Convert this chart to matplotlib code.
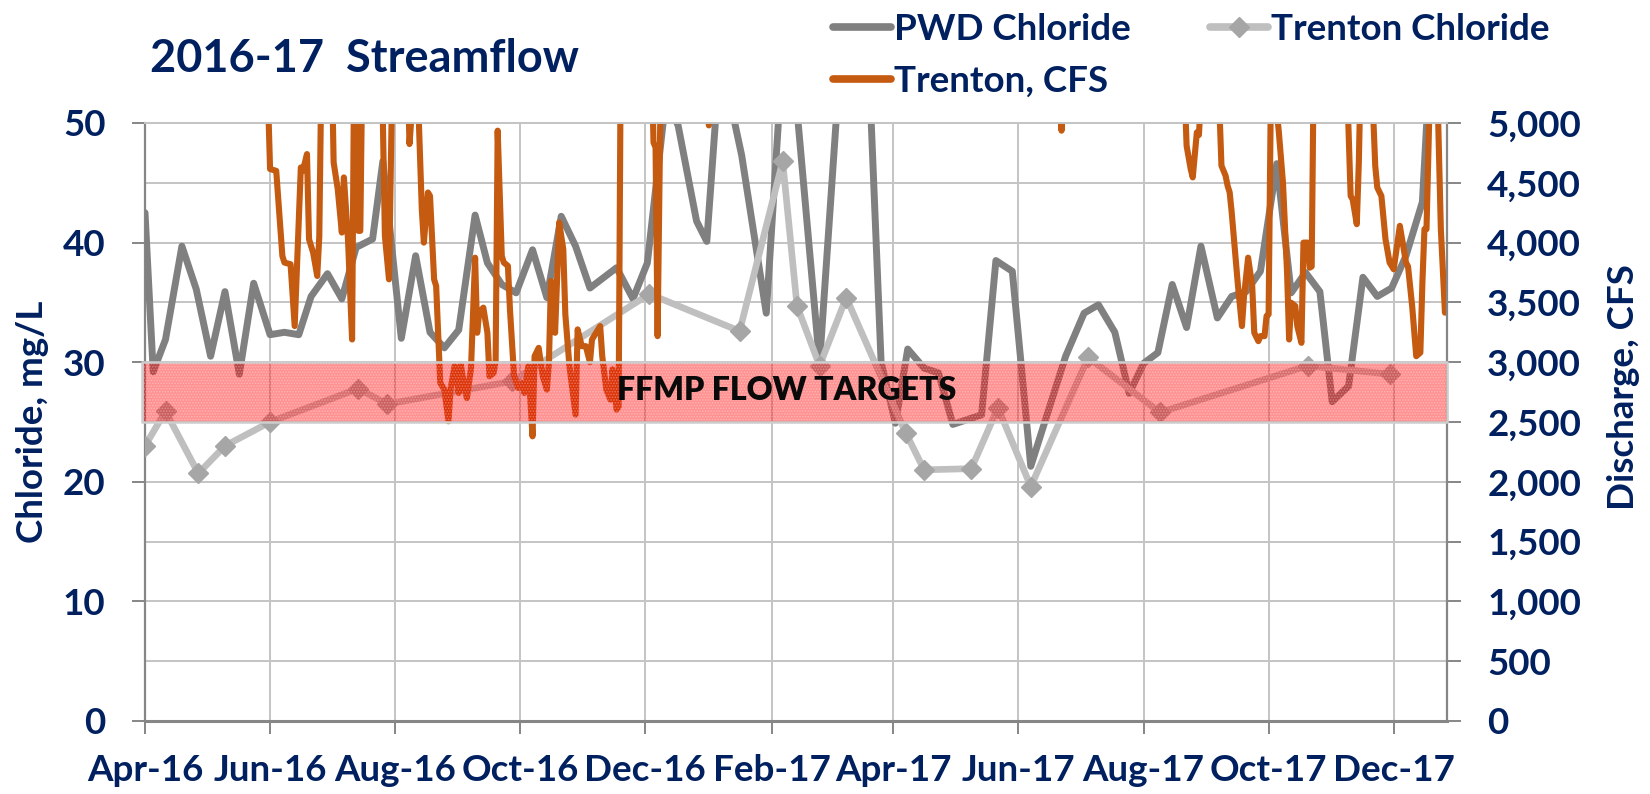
import matplotlib
matplotlib.use("Agg")
import matplotlib.pyplot as plt
import matplotlib.dates as mdates
from matplotlib.lines import Line2D
from matplotlib.ticker import FuncFormatter, MultipleLocator
import pandas as pd

plt.rcParams['font.family'] = ['Lato', 'DejaVu Sans']
plt.rcParams['font.weight'] = 'bold'
plt.rcParams['hatch.linewidth'] = 0.8

# ---------------- data ----------------
title = "2016-17  Streamflow"
left_label = "Chloride, mg/L"
right_label = "Discharge, CFS"
band_label = "FFMP FLOW TARGETS"
band_low, band_high = 2500, 3000

pwd_dates = ["2016-04-01","2016-04-05","2016-04-11","2016-04-19","2016-04-26","2016-05-03","2016-05-10",
             "2016-05-17","2016-05-24","2016-06-01","2016-06-08","2016-06-15","2016-06-21","2016-06-29",
             "2016-07-06","2016-07-13","2016-07-21","2016-07-26","2016-08-04","2016-08-11","2016-08-18",
             "2016-08-25","2016-09-01","2016-09-09","2016-09-15","2016-09-22","2016-09-29","2016-10-07",
             "2016-10-14","2016-10-21","2016-10-28","2016-11-04","2016-11-17","2016-11-25","2016-12-02",
             "2016-12-11","2016-12-17","2016-12-26","2016-12-31","2017-01-05","2017-01-13","2017-01-17",
             "2017-01-29","2017-02-05","2017-02-12","2017-02-24","2017-03-06","2017-03-20","2017-03-26",
             "2017-04-02","2017-04-08","2017-04-16","2017-04-23","2017-04-30","2017-05-14","2017-05-21",
             "2017-05-29","2017-06-07","2017-06-24","2017-07-03","2017-07-10","2017-07-18","2017-07-25",
             "2017-08-01","2017-08-08","2017-08-15","2017-08-22","2017-08-29","2017-09-06","2017-09-13",
             "2017-09-20","2017-09-27","2017-10-05","2017-10-12","2017-10-19","2017-10-26","2017-11-01",
             "2017-11-09","2017-11-16","2017-11-23","2017-11-30","2017-12-07","2017-12-15","2017-12-19"]
pwd_chloride = [42.5,29.2,31.9,39.7,36.1,30.5,35.9,29.0,36.6,32.3,32.5,32.3,35.5,37.4,35.3,39.6,40.3,46.8,
                32.0,38.9,32.5,31.2,32.7,42.3,38.3,36.5,35.8,39.4,35.4,42.2,39.7,36.2,37.9,35.3,38.3,52.0,
                49.8,41.8,40.1,52.0,50.5,47.3,34.1,53.0,53.0,29.9,55.0,55.0,30.0,24.9,31.1,29.5,29.1,24.8,
                25.6,38.5,37.6,21.3,30.5,34.1,34.8,32.5,27.4,29.9,30.8,36.5,32.9,39.7,33.7,35.5,35.9,37.6,
                46.6,35.8,37.5,35.9,26.7,28.0,37.1,35.5,36.2,38.9,43.4,56.0]

trenton_cl_dates = ["2016-04-01","2016-04-11","2016-04-27","2016-05-10","2016-06-01","2016-07-14","2016-07-28",
                    "2016-09-27","2016-12-03","2017-01-16","2017-02-06","2017-02-13","2017-02-24","2017-03-09",
                    "2017-04-07","2017-04-16","2017-05-09","2017-05-22","2017-06-07","2017-07-05","2017-08-09",
                    "2017-10-20","2017-11-29"]
trenton_chloride = [23.0,25.9,20.7,23.0,25.0,27.8,26.5,28.4,35.7,32.6,46.8,34.7,29.7,35.4,24.1,21.0,21.1,26.2,
                    19.6,30.4,25.8,29.7,29.0]

flow_dates = ["2016-04-01","2016-05-01","2016-05-28","2016-05-31","2016-06-01","2016-06-04","2016-06-07",
              "2016-06-08","2016-06-11","2016-06-13","2016-06-16","2016-06-17","2016-06-19","2016-06-20",
              "2016-06-22","2016-06-24","2016-06-25","2016-06-26","2016-07-01","2016-07-02","2016-07-04",
              "2016-07-06","2016-07-07","2016-07-09","2016-07-11","2016-07-12","2016-07-14","2016-07-15",
              "2016-07-16","2016-07-25","2016-07-27","2016-07-29","2016-07-31","2016-08-07","2016-08-08",
              "2016-08-10","2016-08-12","2016-08-14","2016-08-15","2016-08-17","2016-08-18","2016-08-20",
              "2016-08-21","2016-08-23","2016-08-25","2016-08-27","2016-08-28","2016-08-30","2016-09-01",
              "2016-09-02","2016-09-04","2016-09-05","2016-09-07","2016-09-08","2016-09-09","2016-09-10",
              "2016-09-11","2016-09-13","2016-09-15","2016-09-16","2016-09-18","2016-09-19","2016-09-20",
              "2016-09-22","2016-09-23","2016-09-25","2016-09-26","2016-09-28","2016-09-30","2016-10-02",
              "2016-10-03","2016-10-05","2016-10-07","2016-10-08","2016-10-10","2016-10-12","2016-10-14",
              "2016-10-15","2016-10-16","2016-10-18","2016-10-20","2016-10-22","2016-10-23","2016-10-25",
              "2016-10-28","2016-10-29","2016-10-31","2016-11-02","2016-11-04","2016-11-05","2016-11-07",
              "2016-11-09","2016-11-10","2016-11-12","2016-11-14","2016-11-15","2016-11-17","2016-11-18",
              "2016-11-19","2016-12-03","2016-12-05","2016-12-06","2016-12-07","2016-12-09","2016-12-30",
              "2017-01-01","2017-01-02","2017-04-01","2017-06-20","2017-06-22","2017-06-23","2017-08-19",
              "2017-08-21","2017-08-22","2017-08-24","2017-08-25","2017-08-27","2017-08-28","2017-08-30",
              "2017-09-06","2017-09-08","2017-09-10","2017-09-11","2017-09-12","2017-09-13","2017-09-16",
              "2017-09-18","2017-09-19","2017-09-21","2017-09-23","2017-09-24","2017-09-26","2017-09-27",
              "2017-09-29","2017-09-30","2017-10-01","2017-10-02","2017-10-05","2017-10-06","2017-10-08",
              "2017-10-10","2017-10-11","2017-10-12","2017-10-14","2017-10-15","2017-10-17","2017-10-18",
              "2017-10-20","2017-10-21","2017-10-22","2017-10-23","2017-11-07","2017-11-10","2017-11-11",
              "2017-11-13","2017-11-14","2017-11-15","2017-11-20","2017-11-22","2017-11-23","2017-11-25",
              "2017-11-27","2017-11-29","2017-12-01","2017-12-04","2017-12-07","2017-12-08","2017-12-10",
              "2017-12-12","2017-12-14","2017-12-15","2017-12-16","2017-12-17","2017-12-19","2017-12-22",
              "2017-12-24","2017-12-26"]
trenton_cfs = [9000,12000,6500,5200,4615,4600,3888,3833,3819,3302,4628,4600,4740,4028,3916,3721,4050,5400,
               5600,4670,4447,4084,4545,4028,3190,5500,4098,4098,5500,6000,4056,3693,5800,5500,4824,5300,
               5300,4279,4000,4419,4390,3693,3637,2827,2771,2506,2771,2967,2743,2980,2771,2700,2950,3414,
               3874,3246,3414,3456,3246,2883,2910,3009,4936,3888,3833,3805,3440,2883,2785,2827,2743,2967,
               2380,3050,3120,2883,2771,3000,3679,3246,4168,3944,3400,2967,2562,3274,3134,3134,3000,3190,
               3246,3302,3050,2771,2687,2940,2604,2630,5500,6500,4838,4796,3218,6000,6000,4980,6000,15000,
               7000,4936,7000,6000,5300,4810,4615,4545,4922,4900,5500,5600,4643,4560,4475,4420,4251,3650,
               3302,3550,3874,3637,3246,3176,3218,3218,3386,3400,5100,5100,4922,4500,3749,3190,3497,3470,
               3300,3162,4000,4000,3790,3800,5500,6000,4391,4360,4154,4670,5500,5500,4642,4460,4390,4028,
               3833,3777,4140,3833,3800,3470,3050,3080,3665,4112,4112,5500,5500,4112,3414]

x_start, x_end = "2016-04-01", "2017-12-27"

# ---------------- style ----------------
NAVY = "#002060"
DARK_GRAY = "#808080"
LIGHT_GRAY = "#BFBFBF"
MARKER_GRAY = "#A6A6A6"
ORANGE = "#C55A11"
GRID = "#C4C4C4"
AXIS = "#868686"
FS = 26.5

W, H = 1650, 794
fig = plt.figure(figsize=(W / 100, H / 100), dpi=100)
L, R, T, B = 145, 1447, 123, 721
ax = fig.add_axes([L / W, 1 - B / H, (R - L) / W, (B - T) / H])
ax2 = ax.twinx()

pwd_x = pd.to_datetime(pwd_dates)
tcl_x = pd.to_datetime(trenton_cl_dates)
flow_x = pd.to_datetime(flow_dates)

ax.plot(pwd_x, pwd_chloride, color=DARK_GRAY, lw=5.0, solid_joinstyle='round',
        solid_capstyle='round', zorder=3)
ax.plot(tcl_x, trenton_chloride, color=LIGHT_GRAY, lw=4.8, marker='D', ms=10,
        mfc=MARKER_GRAY, mec=MARKER_GRAY, solid_joinstyle='round', zorder=4)
ax2.plot(flow_x, trenton_cfs, color=ORANGE, lw=4.4, solid_joinstyle='round',
         solid_capstyle='round', zorder=2)

# target band on top of all lines
x0 = pd.Timestamp(x_start) - pd.Timedelta(days=1.5)
x1 = pd.Timestamp(x_end)
ax2.fill_between([x0, x1], band_low, band_high, facecolor=(1.0, 0.0, 0.0, 0.43),
                 edgecolor='none', lw=0, zorder=3, clip_on=False)
ax2.fill_between([x0, x1], band_low, band_high, facecolor='none',
                 edgecolor=(1.0, 1.0, 1.0, 0.30), hatch='......', lw=0, zorder=3.1, clip_on=False)
ax2.fill_between([x0, x1], band_low, band_high, facecolor='none',
                 edgecolor='#CDCDCD', lw=1.8, zorder=3.2, clip_on=False)
ax2.text(0.493, 0.5535, band_label, transform=ax.transAxes, ha='center', va='center',
         fontsize=23, fontweight='heavy', color='#0A0A0A', zorder=5)

# axes ranges / ticks
ax.set_xlim(pd.Timestamp(x_start), pd.Timestamp(x_end))
ax.set_ylim(0, 50)
ax2.set_ylim(0, 5000)
ax.xaxis.set_major_locator(mdates.MonthLocator(bymonth=[2, 4, 6, 8, 10, 12]))
ax.xaxis.set_major_formatter(mdates.DateFormatter('%b-%y'))
ax.yaxis.set_major_locator(MultipleLocator(10))
ax.yaxis.set_minor_locator(MultipleLocator(5))
ax2.yaxis.set_major_locator(MultipleLocator(500))
ax2.yaxis.set_major_formatter(FuncFormatter(lambda v, p: f"{v:,.0f}"))

ax.grid(True, which='both', axis='y', color=GRID, lw=1.4, zorder=0)
ax.grid(True, which='major', axis='x', color=GRID, lw=1.4, zorder=0)
ax.set_axisbelow(True)

ax.tick_params(axis='y', which='major', length=9.5, width=1.4, color=AXIS, pad=19,
               labelsize=FS, labelcolor=NAVY)
ax.tick_params(axis='y', which='minor', length=0)
ax.tick_params(axis='x', length=9.5, width=1.4, color=AXIS, pad=14,
               labelsize=FS, labelcolor=NAVY)
ax2.tick_params(axis='y', length=10, width=1.4, color=AXIS, pad=19,
                labelsize=FS, labelcolor=NAVY)
for lab in ax.get_xticklabels() + ax.get_yticklabels() + ax2.get_yticklabels():
    lab.set_fontweight('bold')

for a in (ax, ax2):
    a.spines['top'].set_color(GRID)
    a.spines['top'].set_linewidth(1.4)
ax.spines['right'].set_visible(False)
ax.spines['left'].set_color(AXIS)
ax.spines['left'].set_linewidth(1.6)
ax.spines['bottom'].set_color(AXIS)
ax.spines['bottom'].set_linewidth(2.2)
ax2.spines['left'].set_visible(False)
ax2.spines['bottom'].set_visible(False)
ax2.spines['right'].set_color(AXIS)
ax2.spines['right'].set_linewidth(1.6)

ax.set_ylabel(left_label, fontsize=FS, fontweight='bold', color=NAVY, va='center')
ax.yaxis.set_label_coords((32 - L) / (R - L), 0.5)
ax2.set_ylabel(right_label, fontsize=FS, fontweight='bold', color=NAVY, va='center',
               rotation=90)
ax2.yaxis.set_label_coords((1623 - L) / (R - L), (B - 387) / (B - T))

fig.text(150 / W, 1 - 59 / H, title, fontsize=32.5, fontweight='bold', color=NAVY,
         ha='left', va='center')

# legend (one entry per anchored legend to match layout)
entries = [
    (Line2D([], [], color=DARK_GRAY, lw=5.5, solid_capstyle='round'), "PWD Chloride", 833, 29),
    (Line2D([], [], color=LIGHT_GRAY, lw=5.5, marker='D', ms=10, mfc=MARKER_GRAY, mec=MARKER_GRAY,
            solid_capstyle='round'), "Trenton Chloride", 1210, 29),
    (Line2D([], [], color=ORANGE, lw=5.5, solid_capstyle='round'), "Trenton, CFS", 833, 81),
]
for h, lab, px, py in entries:
    leg = fig.legend([h], [lab], loc='center left', bbox_to_anchor=(px / W, 1 - py / H),
                     frameon=False, borderpad=0, borderaxespad=0, handlelength=1.57,
                     handletextpad=0.1, numpoints=1,
                     prop={'size': FS, 'weight': 'bold'})
    for t in leg.get_texts():
        t.set_color(NAVY)

fig.savefig("out.png", dpi=100)
